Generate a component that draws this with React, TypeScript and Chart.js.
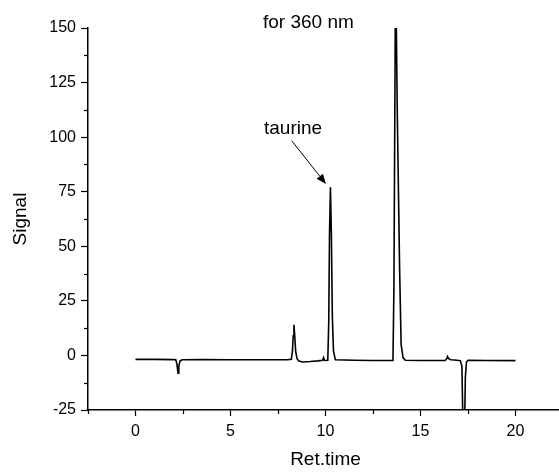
import React, { useEffect, useRef } from "react";
import { Chart, registerables } from "chart.js";

Chart.register(...registerables);

const retTime = [
  0, 1.0, 2.0, 2.12, 2.18, 2.24, 2.28, 2.34, 2.45, 3.5, 5.0, 6.5, 8.0, 8.2, 8.26, 8.3, 8.34, 8.38, 8.43, 8.5,
  8.6, 8.8, 9.2, 9.6, 9.85, 9.9, 9.95, 10.12, 10.17, 10.21, 10.26, 10.31, 10.36, 10.42, 10.52, 11.5, 12.5, 13.55,
  13.6, 13.69, 13.78, 13.9, 13.98, 14.08, 14.2, 15.0, 16.3, 16.38, 16.42, 16.48, 16.6, 16.8, 17.1, 17.18, 17.24,
  17.3, 17.36, 17.42, 17.5, 18.5, 20.0,
];
const signal = [
  -1.8, -1.8, -1.9, -2.0, -4.0, -8.1, -5.0, -2.6, -2.0, -1.9, -2.0, -2.0, -2.0, -1.8, 2, 9, 14, 9, 2, -1.5,
  -2.6, -3.0, -2.8, -2.5, -2.2, -1.0, -2.3, -2.2, 15, 55, 77, 55, 18, 2, -2.0, -2.2, -2.3, -2.3,
  30, 180, 110, 40, 5, -1.0, -2.2, -2.3, -2.3, -1.5, -0.5, -1.5, -2.0, -2.1, -2.4, -5, -35,
  -45, -10, -3, -2.2, -2.3, -2.4,
];

const xMin = -2.5;
const xMax = 22.5;
const xStep = 2.5;
const yMin = -25;
const yMax = 150;
const yStep = 12.5;

const titleText = "for 360 nm";
const peakLabel = "taurine";
const xTitle = "Ret.time";
const yTitle = "Signal";

const FONT = "'Liberation Sans', Arial, Helvetica, sans-serif";

const decorPlugin = {
  id: "decor",
  afterDraw(chart: any) {
    const ctx = chart.ctx;
    const xs = chart.scales.x;
    const ys = chart.scales.y;
    const area = chart.chartArea;
    ctx.save();
    ctx.strokeStyle = "#000";
    ctx.lineWidth = 1.2;
    // minor ticks
    xs.ticks.forEach((t: any) => {
      if (t.value % 5 !== 0) {
        const px = Math.round(xs.getPixelForValue(t.value)) + 0.5;
        if (px > chart.width) return;
        ctx.beginPath();
        ctx.moveTo(px, area.bottom);
        ctx.lineTo(px, area.bottom + 4);
        ctx.stroke();
      }
    });
    ys.ticks.forEach((t: any) => {
      if (t.value % 25 !== 0) {
        const py = Math.round(ys.getPixelForValue(t.value)) + 0.5;
        ctx.beginPath();
        ctx.moveTo(area.left, py);
        ctx.lineTo(area.left - 4, py);
        ctx.stroke();
      }
    });
    ctx.fillStyle = "#000";
    // title
    ctx.font = `19px ${FONT}`;
    ctx.textAlign = "left";
    ctx.textBaseline = "alphabetic";
    ctx.fillText(titleText, 263, 28);
    // annotation
    ctx.fillText(peakLabel, 264, 134);
    // arrow
    const x1 = 291.7, y1 = 140.7, x2 = 326, y2 = 184;
    const ang = Math.atan2(y2 - y1, x2 - x1);
    const hl = 10, hw = 4;
    const bx = x2 - hl * Math.cos(ang), by = y2 - hl * Math.sin(ang);
    ctx.lineWidth = 1;
    ctx.beginPath();
    ctx.moveTo(x1, y1);
    ctx.lineTo(bx, by);
    ctx.stroke();
    ctx.beginPath();
    ctx.moveTo(x2, y2);
    ctx.lineTo(bx + hw * Math.sin(ang), by - hw * Math.cos(ang));
    ctx.lineTo(bx - hw * Math.sin(ang), by + hw * Math.cos(ang));
    ctx.closePath();
    ctx.fill();
    // axis titles
    ctx.textAlign = "center";
    ctx.fillText(xTitle, (area.left + area.right) / 2, 465);
    ctx.save();
    ctx.translate(25.5, (area.top + area.bottom) / 2);
    ctx.rotate(-Math.PI / 2);
    ctx.fillText(yTitle, 0, 0);
    ctx.restore();
    ctx.restore();
  },
};

export default function App() {
  const ref = useRef<HTMLCanvasElement | null>(null);
  useEffect(() => {
    if (!ref.current) return;
    const points = retTime.map((t, i) => ({ x: t, y: signal[i] }));
    const chart = new Chart(ref.current, {
      type: "line",
      data: {
        datasets: [
          {
            data: points,
            borderColor: "#000",
            borderWidth: 1.6,
            pointRadius: 0,
            tension: 0,
            fill: false,
          },
        ],
      },
      options: {
        responsive: false,
        animation: false,
        events: [],
        layout: { padding: { left: 0, top: 28, right: 17, bottom: 0 } },
        plugins: { legend: { display: false }, title: { display: false }, tooltip: { enabled: false } },
        scales: {
          x: {
            type: "linear",
            min: xMin,
            max: xMax,
            afterFit: (s: any) => {
              s.height = 62;
            },
            border: { display: true, color: "#000", width: 1.5 },
            grid: {
              display: true,
              drawOnChartArea: false,
              drawTicks: true,
              tickLength: 6,
              tickWidth: 1.2,
              tickColor: (c: any) => (c.tick && c.tick.value % 5 === 0 ? "#000" : "rgba(0,0,0,0)"),
            },
            ticks: {
              stepSize: xStep,
              autoSkip: false,
              maxRotation: 0,
              padding: 6,
              color: "#000",
              font: { family: FONT, size: 16 },
              callback: (v: any) => (Number(v) % 5 === 0 ? String(v) : ""),
            },
          },
          y: {
            type: "linear",
            min: yMin,
            max: yMax,
            afterFit: (s: any) => {
              s.width = 88;
            },
            border: { display: true, color: "#000", width: 1.5 },
            grid: {
              display: true,
              drawOnChartArea: false,
              drawTicks: true,
              tickLength: 7,
              tickWidth: 1.2,
              tickColor: (c: any) => (c.tick && c.tick.value % 25 === 0 ? "#000" : "rgba(0,0,0,0)"),
            },
            ticks: {
              stepSize: yStep,
              autoSkip: false,
              padding: 5,
              color: "#000",
              font: { family: FONT, size: 16 },
              callback: (v: any) => (Number(v) % 25 === 0 ? String(v) : ""),
            },
          },
        },
      },
      plugins: [decorPlugin],
    });
    return () => chart.destroy();
  }, []);
  return (
    <div style={{ position: "absolute", left: 0, top: 0, width: 559, height: 472, overflow: "hidden", background: "#fff" }}>
      <canvas ref={ref} width={580} height={472} style={{ display: "block" }} />
    </div>
  );
}
